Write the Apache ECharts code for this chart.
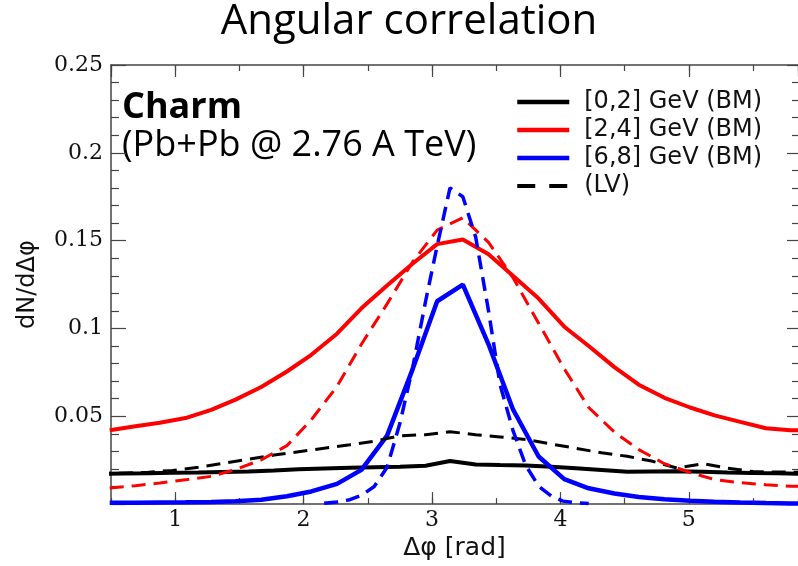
<!DOCTYPE html>
<html>
<head>
<meta charset="utf-8">
<script src="https://cdn.jsdelivr.net/npm/echarts@6/dist/echarts.min.js"></script>
<style>
html, body { margin: 0; padding: 0; background: #fff; }
#chart { width: 798px; height: 566px; }
</style>
</head>
<body>
<div id="chart"></div>
<script>
// bin centres (rad) used by the different curves
var binsBM = [0.49, 0.69, 0.88, 1.08, 1.28, 1.47, 1.67, 1.87, 2.06, 2.26, 2.45, 2.65, 2.85, 3.04, 3.24,
    3.44, 3.63, 3.83, 4.03, 4.22, 4.42, 4.61, 4.81, 5.01, 5.20, 5.40, 5.60, 5.79, 5.99];
var binsLow = [0.39, 0.59, 0.79, 0.98, 1.18, 1.37, 1.57, 1.77, 1.96, 2.16, 2.36, 2.55, 2.75, 2.95, 3.14,
    3.34, 3.53, 3.73, 3.93, 4.12, 4.32, 4.52, 4.71, 4.91, 5.11, 5.30, 5.50, 5.69, 5.89];
var binsFine = [2.16, 2.26, 2.36, 2.45, 2.55, 2.65, 2.75, 2.85, 2.95, 3.04, 3.14, 3.24, 3.34, 3.44,
    3.53, 3.63, 3.73, 3.83, 3.93, 4.02, 4.12, 4.22];

// Boltzmann (BM), solid lines
var bm02 = [0.0172, 0.0174, 0.0176, 0.0178, 0.0180, 0.0183, 0.0186, 0.0191, 0.0198, 0.0203, 0.0207, 0.0210,
    0.0213, 0.0218, 0.0245, 0.0225, 0.0222, 0.0220, 0.0213, 0.0204, 0.0194, 0.0184, 0.0186, 0.0187,
    0.0184, 0.0180, 0.0177, 0.0175, 0.0173];
var bm24 = [0.0421, 0.0443, 0.0463, 0.0490, 0.0537, 0.0595, 0.0667, 0.0755, 0.0850, 0.0970, 0.1115, 0.1245,
    0.1370, 0.1480, 0.1507, 0.1422, 0.1300, 0.1170, 0.1010, 0.0900, 0.0780, 0.0680, 0.0605, 0.0550,
    0.0505, 0.0468, 0.0432, 0.0420, 0.0420];
var bm68 = [0.0007, 0.0008, 0.0009, 0.0010, 0.0012, 0.0016, 0.0025, 0.0045, 0.0072, 0.0115, 0.0195, 0.0390,
    0.0770, 0.1155, 0.1249, 0.0910, 0.0540, 0.0271, 0.0142, 0.0090, 0.0060, 0.0040, 0.0028, 0.0019,
    0.0013, 0.0009, 0.0006, 0.0004, 0.0003];

// Langevin (LV), dashed lines
var lv02 = [0.0174, 0.0176, 0.0182, 0.0192, 0.0210, 0.0232, 0.0255, 0.0279, 0.0298, 0.0318, 0.0338, 0.0358,
    0.0389, 0.0395, 0.0412, 0.0395, 0.0382, 0.0368, 0.0342, 0.0318, 0.0292, 0.0272, 0.0245, 0.0205,
    0.0230, 0.0205, 0.0185, 0.0183, 0.0181];
var lv24 = [0.0092, 0.0105, 0.0120, 0.0138, 0.0158, 0.0197, 0.0252, 0.0333, 0.0480, 0.0670, 0.0910, 0.1140,
    0.1380, 0.1560, 0.1630, 0.1490, 0.1290, 0.1030, 0.0770, 0.0550, 0.0410, 0.0310, 0.0230, 0.0180,
    0.0140, 0.0122, 0.0110, 0.0102, 0.0100];
var lv68 = [0.0005, 0.0012, 0.0025, 0.0050, 0.0100, 0.0210, 0.0460, 0.0780, 0.1155, 0.1470, 0.1800, 0.1750,
    0.1520, 0.1100, 0.0680, 0.0420, 0.0220, 0.0102, 0.0045, 0.0017, 0.0008, 0.0003];

var legendNames = ['[0,2] GeV (BM)', '[2,4] GeV (BM)', '[6,8] GeV (BM)', '(LV)'];

function pairs(xs, ys) {
    var out = [];
    for (var i = 0; i < xs.length; i++) {
        out.push([xs[i], ys[i]]);
    }
    return out;
}

var frameColor = '#444';
var tickFont = 'DejaVu Serif';

function lineSeries(name, xs, ys, color, width, dash) {
    return {
        name: name,
        type: 'line',
        data: pairs(xs, ys),
        symbol: 'none',
        clip: true,
        silent: true,
        animation: false,
        itemStyle: { color: color },
        lineStyle: { color: color, width: width, type: dash || 'solid' }
    };
}

function xAx(position, major) {
    var a = {
        type: 'value',
        position: position,
        min: 0.5,
        max: 5.85,
        splitLine: { show: false },
        axisLine: { show: major, lineStyle: { color: frameColor, width: 1.5 } },
        axisTick: { inside: true, length: major ? 12 : 6, lineStyle: { color: frameColor, width: 1.2 } },
        axisLabel: { show: false }
    };
    if (major) {
        a.splitNumber = 5;
    } else {
        a.interval = 0.5;
    }
    return a;
}

var chart = echarts.init(document.getElementById('chart'));

var option = {
    animation: false,
    grid: { left: 111, right: -1, top: 65, bottom: 58, containLabel: false },
    xAxis: [
        Object.assign(xAx('bottom', true), {
            axisLabel: {
                show: true, showMinLabel: false, showMaxLabel: false,
                fontFamily: tickFont, fontSize: 22, color: '#111', margin: 5
            },
            name: 'Δφ [rad]',
            nameLocation: 'middle',
            nameGap: 27,
            nameTextStyle: { fontFamily: 'DejaVu Sans', fontSize: 25, color: '#111' }
        }),
        xAx('bottom', false),
        xAx('top', true),
        xAx('top', false)
    ],
    yAxis: [{
        type: 'value',
        position: 'left',
        min: 0,
        max: 0.25,
        interval: 0.05,
        splitLine: { show: false },
        axisLine: { show: true, lineStyle: { color: frameColor, width: 1.5 } },
        axisTick: { inside: true, length: 15, lineStyle: { color: frameColor, width: 1.2 } },
        minorTick: { show: true, splitNumber: 5, length: 8, lineStyle: { color: frameColor, width: 1.2 } },
        axisLabel: { showMinLabel: false, fontFamily: tickFont, fontSize: 22, color: '#111', margin: 8 },
        name: 'dN/dΔφ',
        nameLocation: 'middle',
        nameRotate: 90,
        nameGap: 71,
        nameTextStyle: { fontFamily: 'DejaVu Sans', fontSize: 24, color: '#111' }
    }, {
        type: 'value',
        position: 'right',
        min: 0,
        max: 0.25,
        interval: 0.05,
        splitLine: { show: false },
        axisLine: { show: false },
        axisTick: { inside: true, length: 11, lineStyle: { color: frameColor, width: 1.2 } },
        minorTick: { show: true, splitNumber: 5, length: 6, lineStyle: { color: frameColor, width: 1.2 } },
        axisLabel: { show: false }
    }],
    legend: {
        orient: 'vertical',
        left: 515,
        top: 90,
        padding: 0,
        itemWidth: 52,
        itemHeight: 10,
        itemGap: 4,
        selectedMode: false,
        itemStyle: { opacity: 0, borderWidth: 0 },
        lineStyle: { width: 4.5 },
        textStyle: { fontFamily: 'DejaVu Sans', fontSize: 24, lineHeight: 24, color: '#111', padding: [0, 0, 0, 10] },
        data: [
            { name: legendNames[0] },
            { name: legendNames[1] },
            { name: legendNames[2] },
            { name: legendNames[3], lineStyle: { type: [18, 14], width: 4 } }
        ]
    },
    graphic: [
        { type: 'text', x: 409, y: 22, style: { text: 'Angular correlation', fontFamily: 'Open Sans', fontSize: 42, fill: '#000', align: 'center', verticalAlign: 'middle' } },
        { type: 'text', x: 122, y: 108, style: { text: 'Charm', fontFamily: 'Open Sans', fontWeight: 'bold', fontSize: 36, fill: '#000', align: 'left', verticalAlign: 'middle' } },
        { type: 'text', x: 122, y: 146, style: { text: '(Pb+Pb @ 2.76 A TeV)', fontFamily: 'Open Sans', fontSize: 36, fill: '#000', align: 'left', verticalAlign: 'middle' } }
    ],
    series: [
        lineSeries(legendNames[0], binsLow, bm02, '#000000', 4),
        lineSeries(legendNames[1], binsBM, bm24, '#ff0000', 4),
        lineSeries(legendNames[2], binsBM, bm68, '#0000ff', 4.5),
        lineSeries(legendNames[3], binsLow, lv02, '#000000', 3, [14, 8]),
        lineSeries('[2,4] GeV (LV)', binsBM, lv24, '#ff0000', 3, [14, 8]),
        lineSeries('[6,8] GeV (LV)', binsFine, lv68, '#0000ff', 3.5, [14, 8])
    ]
};

chart.setOption(option);
</script>
</body>
</html>
